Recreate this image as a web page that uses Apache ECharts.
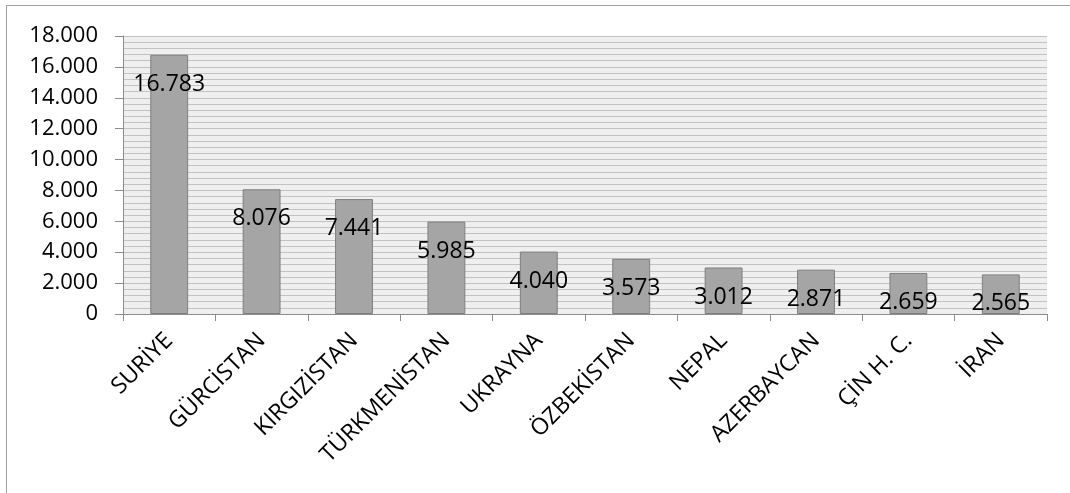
<!DOCTYPE html>
<html>
<head>
<meta charset="utf-8">
<script src="https://cdn.jsdelivr.net/npm/echarts@6/dist/echarts.min.js"></script>
<style>
html,body{margin:0;padding:0;background:#fff;width:1070px;height:493px;overflow:hidden;}
#frame{position:absolute;left:6px;top:5px;width:1100px;height:600px;border-left:1px solid #a0a0a0;border-top:1px solid #a0a0a0;}
#chart{position:absolute;left:0;top:0;width:1070px;height:493px;}
</style>
</head>
<body>
<div id="frame"></div>
<div id="chart"></div>
<script>
const categories = ['SURİYE','GÜRCİSTAN','KIRGIZİSTAN','TÜRKMENİSTAN','UKRAYNA','ÖZBEKİSTAN','NEPAL','AZERBAYCAN','ÇİN H. C.','İRAN'];
const values = [16783, 8076, 7441, 5985, 4040, 3573, 3012, 2871, 2659, 2565];
const yTicks = [0, 2000, 4000, 6000, 8000, 10000, 12000, 14000, 16000, 18000];

function fmt(v){
  return String(Math.round(v)).replace(/\B(?=(\d{3})+(?!\d))/g, '.');
}
const font = "'Open Sans', 'Liberation Sans', sans-serif";
const chart = echarts.init(document.getElementById('chart'), null, {renderer:'canvas'});
chart.setOption({
  animation:false,
  backgroundColor:'transparent',
  grid:{left:123, right:23, top:36, bottom:179, show:true, backgroundColor:'#efefef', borderWidth:0},
  xAxis:{
    type:'category', data:categories,
    axisLine:{lineStyle:{color:'#8c8c8c', width:1}},
    axisTick:{show:true, length:7, lineStyle:{color:'#8c8c8c'}},
    axisLabel:{rotate:45, fontSize:23, color:'#000', fontFamily:font, margin:23, interval:0}
  },
  yAxis:{
    type:'value', min:yTicks[0], max:yTicks[yTicks.length-1], interval:2000,
    axisLine:{show:true, lineStyle:{color:'#8c8c8c', width:1}},
    axisTick:{show:true, length:8, lineStyle:{color:'#8c8c8c'}},
    axisLabel:{fontSize:22, color:'#000', fontFamily:font, margin:25, formatter:v=>fmt(v)},
    splitLine:{show:true, lineStyle:{color:'#c2c2c2', width:1}},
    minorTick:{show:false, splitNumber:5},
    minorSplitLine:{show:true, lineStyle:{color:'#c2c2c2', width:1}}
  },
  series:[{
    type:'bar', data:values, barCategoryGap:'59%',
    itemStyle:{color:'#a5a5a5', borderColor:'#7f7f7f', borderWidth:1},
    label:{show:true, position:'insideTop', distance:18, fontSize:23, color:'#000', fontFamily:font, formatter:p=>fmt(p.value)}
  }]
});
</script>
</body>
</html>
